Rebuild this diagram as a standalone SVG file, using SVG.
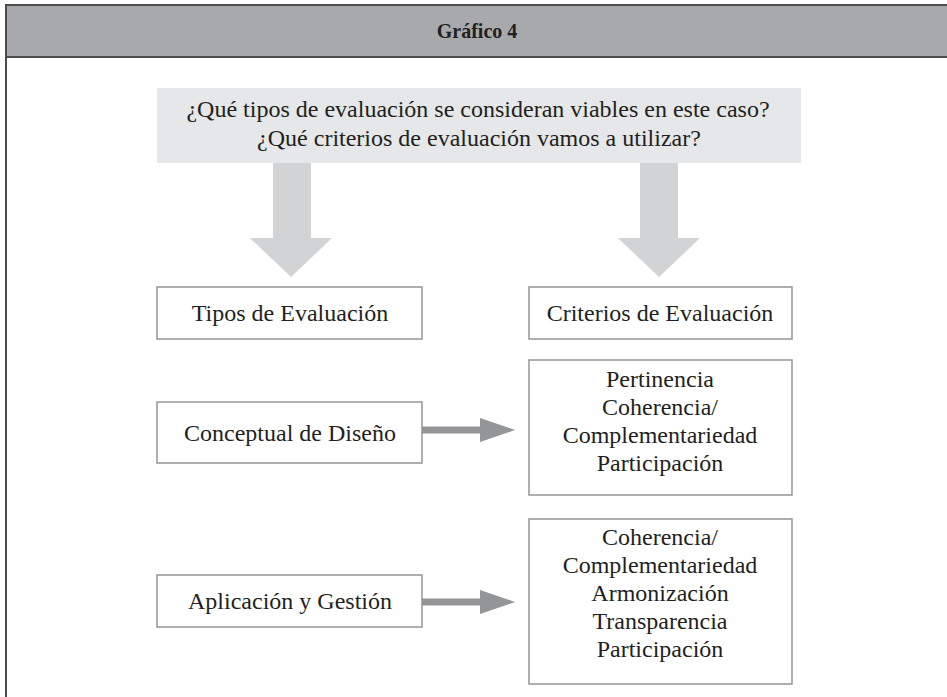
<svg xmlns="http://www.w3.org/2000/svg" width="947" height="697" viewBox="0 0 947 697">
<style>
text{font-family:"Liberation Serif","Times New Roman",serif;fill:#231f20;text-anchor:middle;font-size:24px}
.title{font-weight:bold;font-size:20px}
.box{fill:#fff;stroke:#939598;stroke-width:1.5}
.big{fill:#d1d3d4}
.small{fill:#939598}
</style>
<rect width="947" height="697" fill="#fff"/>
<g id="frame">
<rect x="6" y="5" width="950" height="52" fill="#a7a9ac"/>
<path d="M6 697V5H947M6 57H947" fill="none" stroke="#4d4d4f" stroke-width="2"/>
<text class="title" x="477" y="38">Gráfico 4</text>
</g>
<g id="question">
<rect x="157" y="88" width="644" height="75" fill="#e6e7e8"/>
<text x="478" y="117">¿Qué tipos de evaluación se consideran viables en este caso?</text>
<text x="479" y="146">¿Qué criterios de evaluación vamos a utilizar?</text>
</g>
<g id="tipos">
<rect class="box" x="157" y="287" width="265" height="52"/>
<text x="290" y="321">Tipos de Evaluación</text>
</g>
<g id="criterios">
<rect class="box" x="529" y="287" width="263" height="52"/>
<text x="660" y="321">Criterios de Evaluación</text>
</g>
<g id="conceptual">
<rect class="box" x="157" y="402" width="265" height="61"/>
<text x="290" y="441">Conceptual de Diseño</text>
</g>
<g id="criterios1">
<rect class="box" x="529" y="360" width="263" height="135"/>
<text x="660" y="387">Pertinencia</text>
<text x="660" y="415">Coherencia/</text>
<text x="660" y="443">Complementariedad</text>
<text x="660" y="471">Participación</text>
</g>
<g id="aplicacion">
<rect class="box" x="157" y="575" width="265" height="52"/>
<text x="290" y="609">Aplicación y Gestión</text>
</g>
<g id="criterios2">
<rect class="box" x="529" y="519" width="263" height="165"/>
<text x="660" y="545">Coherencia/</text>
<text x="660" y="573">Complementariedad</text>
<text x="660" y="601">Armonización</text>
<text x="660" y="629">Transparencia</text>
<text x="660" y="657">Participación</text>
</g>
<g id="connectors">
<path class="big" d="M273 163H311V238H332L291 277L250 238H273Z"/>
<path class="big" d="M640 163H678V238H700L659 277L618 238H640Z"/>
<path class="small" d="M422 426.5H480V418L515 430L480 442V433.5H422Z"/>
<path class="small" d="M422 598.5H480V590L515 602L480 614V605.5H422Z"/>
</g>
</svg>
